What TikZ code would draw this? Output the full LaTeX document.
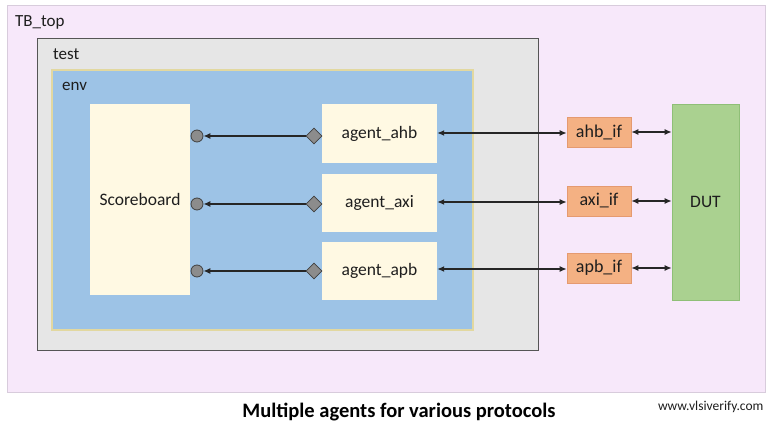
\documentclass[tikz,border=0pt]{standalone}
\usepackage{fontspec}
\setmainfont{Carlito}
\usetikzlibrary{arrows.meta,shapes.geometric}
\definecolor{tbpink}{HTML}{F7E8FA}
\definecolor{tbborder}{HTML}{D8CCDC}
\definecolor{testgray}{HTML}{E6E6E6}
\definecolor{testborder}{HTML}{555555}
\definecolor{envblue}{HTML}{9DC3E6}
\definecolor{envborder}{HTML}{E2D8A0}
\definecolor{cream}{HTML}{FFF9E3}
\definecolor{salmon}{HTML}{F4B183}
\definecolor{salmonborder}{HTML}{E59A70}
\definecolor{dutgreen}{HTML}{AAD190}
\definecolor{dutborder}{HTML}{8FBF77}
\definecolor{portgray}{HTML}{8C8C8C}
\definecolor{txt}{HTML}{1E1E1E}
\tikzset{
  blk/.style={rectangle, fill=cream, draw=none, inner sep=0pt, font=\fontsize{17.5}{19}\selectfont, text=txt},
  ifbox/.style={rectangle, fill=salmon, draw=salmonborder, line width=0.6pt, inner sep=0pt, minimum width=64pt, minimum height=30pt, font=\fontsize{18}{20}\selectfont, text=txt},
  lbl/.style={anchor=west, font=\fontsize{17}{19}\selectfont, text=txt, inner sep=0pt},
  port/.style={circle, fill=portgray, draw=darkgray, line width=0.8pt, minimum size=12pt, inner sep=0pt},
  sock/.style={diamond, fill=portgray, draw=darkgray, line width=0.8pt, minimum size=16pt, inner sep=0pt},
  conn/.style={line width=1.3pt, draw=black!85, -{Latex[length=7pt,width=6pt]}},
  biconn/.style={line width=1.3pt, draw=black!85, {Latex[length=7pt,width=6pt]}-{Latex[length=7pt,width=6pt]}},
}
\begin{document}
\begin{tikzpicture}[x=1pt,y=-1pt]
\useasboundingbox (0,0) rectangle (768,427);
\fill[white] (0,0) rectangle (768,427);
% containers
\draw[fill=tbpink, draw=tbborder, line width=0.8pt] (7,5) rectangle (765,392);
\node[lbl] (tbl) at (15,22) {TB\_top};
\draw[fill=testgray, draw=testborder, line width=0.8pt] (37,38) rectangle (538,350);
\node[lbl] (testl) at (53,54) {test};
\draw[fill=envblue, draw=envborder, line width=1.5pt] (52,70) rectangle (473,330);
\node[lbl] (envl) at (62,86) {env};
% blocks
\node[blk, minimum width=100pt, minimum height=191pt] (sb) at (140,199.5) {Scoreboard};
\node[blk, minimum width=115pt, minimum height=59pt] (ahb) at (379.5,133.5) {agent\_ahb};
\node[blk, minimum width=115pt, minimum height=58pt] (axi) at (379.5,203) {agent\_axi};
\node[blk, minimum width=115pt, minimum height=58pt] (apb) at (379.5,271) {agent\_apb};
\node[ifbox] (ahbif) at (599,132) {ahb\_if};
\node[ifbox] (axiif) at (599,201) {axi\_if};
\node[ifbox] (apbif) at (599,268) {apb\_if};
\node[rectangle, fill=dutgreen, draw=dutborder, line width=0.6pt, minimum width=67pt, minimum height=196pt, inner sep=0pt, font=\fontsize{17.5}{19}\selectfont, text=txt] (dut) at (705.5,202) {DUT};
% ports
\node[port] (p1) at (197,136) {};
\node[port] (p2) at (197,204) {};
\node[port] (p3) at (197,271) {};
\node[sock] (s1) at (314,136) {};
\node[sock] (s2) at (314,204) {};
\node[sock] (s3) at (314,271) {};
\draw[conn] (s1) -- (p1);
\draw[conn] (s2) -- (p2);
\draw[conn] (s3) -- (p3);
% agent <-> if
\draw[biconn] (ahb.east |- 0,133) -- (ahbif.west |- 0,133);
\draw[biconn] (axi.east |- 0,202) -- (axiif.west |- 0,202);
\draw[biconn] (apb.east |- 0,269) -- (apbif.west |- 0,269);
% if <-> DUT
\draw[biconn] (ahbif.east) -- (dut.west |- ahbif.east);
\draw[biconn] (axiif.east) -- (dut.west |- axiif.east);
\draw[biconn] (apbif.east) -- (dut.west |- apbif.east);
% captions
\node[font=\fontsize{20.5}{22}\selectfont\bfseries, text=black] (cap) at (399,412) {Multiple agents for various protocols};
\node[font=\fontsize{13.5}{15}\selectfont, text=txt, anchor=east] (web) at (767,407) {www.vlsiverify.com};
\end{tikzpicture}
\end{document}
